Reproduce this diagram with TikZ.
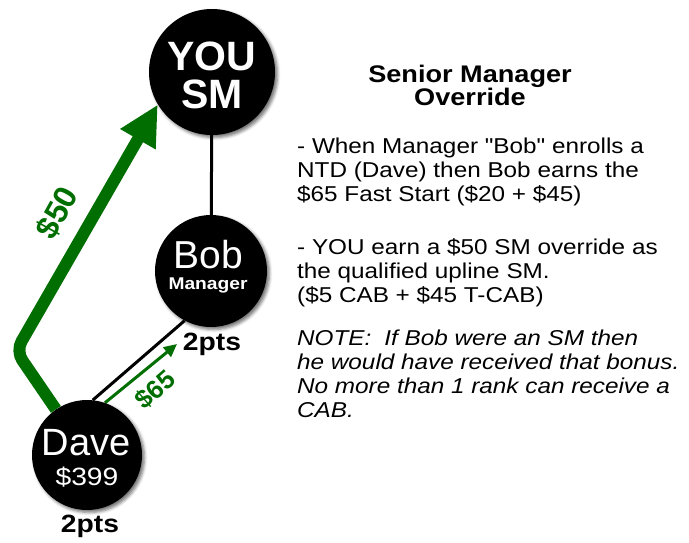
\documentclass[tikz,border=0pt]{standalone}
\usepackage{fontspec}
\setmainfont{Liberation Sans}
\newfontfamily\widefont{Liberation Sans}[FakeStretch=1.13]
\usetikzlibrary{arrows.meta,shadows.blur}
\definecolor{money}{RGB}{0,110,0}
\pgfdeclarelayer{back}
\pgfsetlayers{back,main}
\tikzset{
  member/.style={circle, fill=black, inner sep=0pt, minimum size=#1,
    blur shadow={shadow xshift=2.5pt, shadow yshift=-2.5pt,
      shadow blur radius=3pt, shadow opacity=55}},
  intext/.style={text=white, inner sep=0pt, anchor=base},
  pts/.style={inner sep=0pt, anchor=base,
    font=\widefont\bfseries\fontsize{25}{25}\selectfont},
  heading/.style={inner sep=0pt, anchor=base,
    font=\widefont\bfseries\fontsize{24}{24}\selectfont},
  body/.style={inner sep=0pt, anchor=base west,
    font=\widefont\fontsize{21.5}{24}\selectfont},
  note/.style={body, font=\widefont\itshape\fontsize{21.5}{24}\selectfont},
  tie/.style={line width=3pt, draw=black},
  bigflow/.style={line width=12pt, draw=money, rounded corners=11pt,
    -{Triangle[length=40pt,width=38pt]}},
  smallflow/.style={line width=3pt, draw=money,
    -{Triangle[length=13pt,width=12pt]}},
  amount/.style={text=money, inner sep=0pt}
}
\begin{document}
\begin{tikzpicture}[x=1pt,y=-1pt]
\useasboundingbox (0,0) rectangle (689,542);

% the three people
\node[member=126pt] (you) at (212,72) {};
\node[member=112pt] (bob) at (211,271) {};
\node[member=110pt] (dave) at (87,455) {};

% names inside the circles
\node[intext, font=\bfseries\fontsize{41}{41}\selectfont] (youname) at (212,70) {YOU};
\node[intext, font=\bfseries\fontsize{41}{41}\selectfont] (yourank) at (212,108) {SM};
\node[intext, font=\fontsize{39}{39}\selectfont] (bobname) at (208,268) {Bob};
\node[intext, font=\widefont\bfseries\fontsize{17}{17}\selectfont] (bobrank) at (208,289) {Manager};
\node[intext, font=\fontsize{38}{38}\selectfont] (davename) at (86,455) {Dave};
\node[intext, font=\widefont\fontsize{25}{25}\selectfont] (daveprice) at (87,485) {\$399};

% points
\node[pts] (bobpts) at (212,350) {2pts};
\node[pts] (davepts) at (90,532) {2pts};

% connectors and money flows
\coordinate (bend) at (16,351);
\coordinate (fsend) at (177,344);
\begin{pgfonlayer}{back}
  \draw[tie] (you) -- (bob);
  \draw[tie] (dave.84) -- (bob.242);
  \draw[bigflow] (dave) -- (bend) -- (you.211);
  \draw[smallflow] (dave.71) -- (fsend);
\end{pgfonlayer}

\node[amount, rotate=61, font=\bfseries\fontsize{32}{32}\selectfont] (fifty) at (57,213) {\$50};
\node[amount, rotate=41, font=\bfseries\fontsize{26}{26}\selectfont] (sixtyfive) at (155,390) {\$65};

% explanation
\node[heading] (title1) at (470,82) {Senior Manager};
\node[heading] (title2) at (470,105) {Override};

\node[body] (p1a) at (297,153) {- When Manager "Bob" enrolls a};
\node[body] (p1b) at (297,177) {NTD (Dave) then Bob earns the};
\node[body] (p1c) at (297,201) {\$65 Fast Start (\$20 + \$45)};

\node[body] (p2a) at (297,254) {- YOU earn a \$50 SM override as};
\node[body] (p2b) at (297,278) {the qualified upline SM.};
\node[body] (p2c) at (297,302) {(\$5 CAB + \$45 T-CAB)};

\node[note] (n1) at (297,345) {NOTE:\hspace{0.6em}If Bob were an SM then};
\node[note] (n2) at (297,369) {he would have received that bonus.};
\node[note] (n3) at (297,393) {No more than 1 rank can receive a};
\node[note] (n4) at (297,417) {CAB.};
\end{tikzpicture}
\end{document}
